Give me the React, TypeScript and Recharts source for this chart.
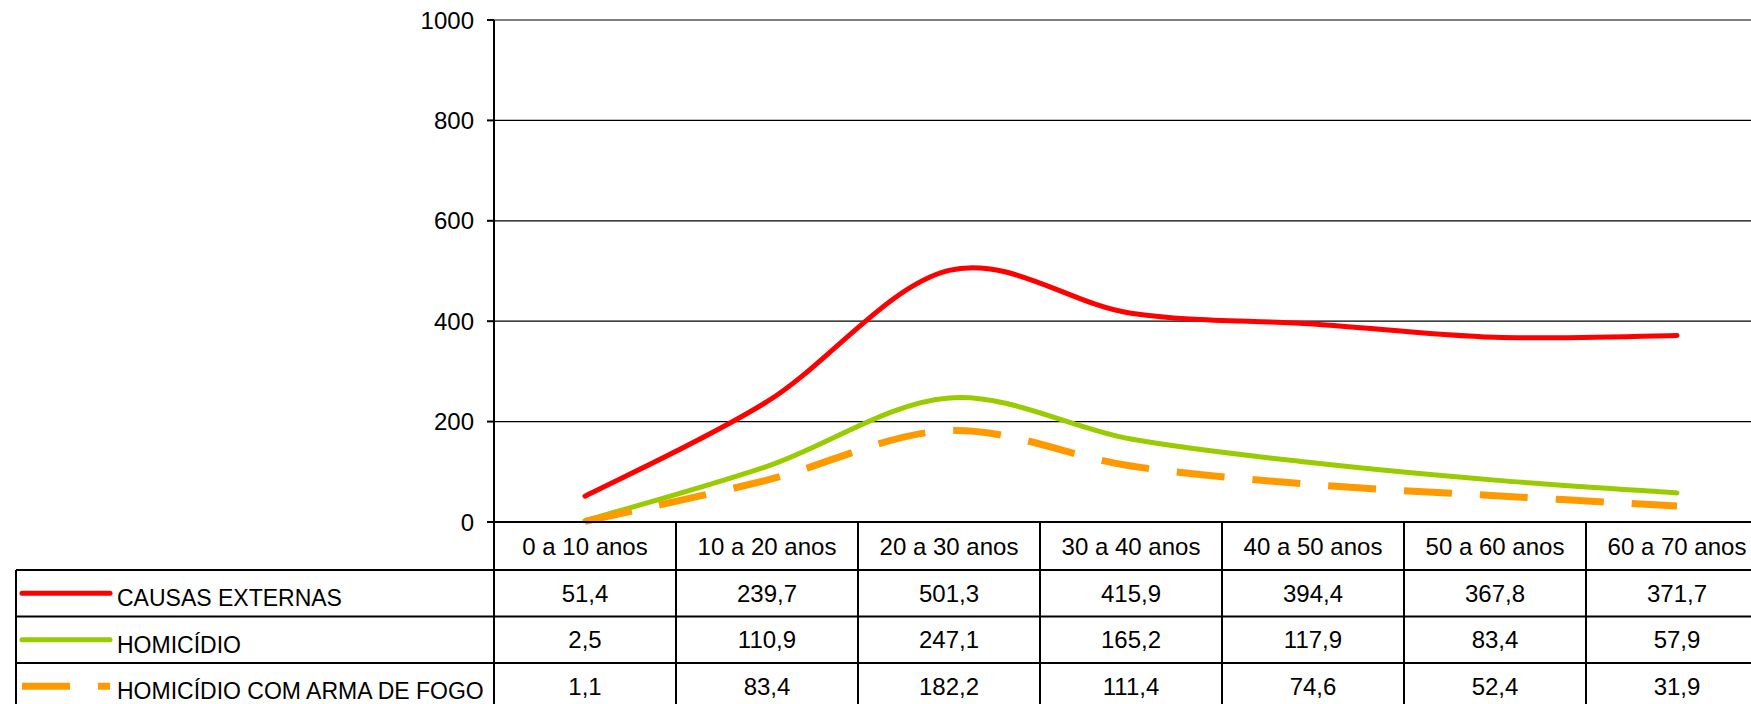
import { LineChart, Line, XAxis, YAxis, CartesianGrid, ReferenceLine } from 'recharts'

const categories = ['0 a 10 anos', '10 a 20 anos', '20 a 30 anos', '30 a 40 anos', '40 a 50 anos', '50 a 60 anos', '60 a 70 anos']
const causasExternas = [51.4, 239.7, 501.3, 415.9, 394.4, 367.8, 371.7]
const homicidio = [2.5, 110.9, 247.1, 165.2, 117.9, 83.4, 57.9]
const homicidioArma = [1.1, 83.4, 182.2, 111.4, 74.6, 52.4, 31.9]
const yTicks = [0, 200, 400, 600, 800, 1000]

const SERIES = [
  { key: 'causas', name: 'CAUSAS EXTERNAS', values: causasExternas, color: '#FF0000', width: 5, dash: undefined as string | undefined },
  { key: 'homicidio', name: 'HOMICÍDIO', values: homicidio, color: '#99CC00', width: 5, dash: undefined as string | undefined },
  { key: 'arma', name: 'HOMICÍDIO COM ARMA DE FOGO', values: homicidioArma, color: '#FF9900', width: 7, dash: '48 28' },
]

const data = categories.map((name, i) => {
  const row: Record<string, string | number> = { name }
  SERIES.forEach(s => { row[s.key] = s.values[i] })
  return row
})

// layout (the original image is cropped on the right, so the chart runs past the frame)
const FRAME_W = 1751
const FRAME_H = 704
const Y_AXIS_W = 494
const PLOT_W = 1274
const COL_W = PLOT_W / categories.length
const TOP = 20
const PLOT_H = 502
const TABLE_H = FRAME_H - TOP - PLOT_H
const CHART_W = Y_AXIS_W + PLOT_W
const HEADER_H = 48
const ROW_H = 46.5
const TABLE_LEFT = 16
const FONT = '"Liberation Sans", Arial, sans-serif'
const FONT_SIZE = 24
const LEGEND_FONT_SIZE = 23

const fmt = (v: number) => v.toFixed(1).replace('.', ',')

// Excel-style smoothed line (Catmull-Rom bezier)
function excelSmooth(context: any) {
  let pts: [number, number][] = []
  return {
    areaStart() {},
    areaEnd() {},
    lineStart() { pts = [] },
    point(x: number, y: number) { pts.push([+x, +y]) },
    lineEnd() {
      const n = pts.length
      if (!n) return
      context.moveTo(pts[0][0], pts[0][1])
      for (let i = 0; i < n - 1; i++) {
        const p0 = pts[Math.max(i - 1, 0)]
        const p1 = pts[i]
        const p2 = pts[i + 1]
        const p3 = pts[Math.min(i + 2, n - 1)]
        context.bezierCurveTo(
          p1[0] + (p2[0] - p0[0]) / 6, p1[1] + (p2[1] - p0[1]) / 6,
          p2[0] - (p3[0] - p1[0]) / 6, p2[1] - (p3[1] - p1[1]) / 6,
          p2[0], p2[1],
        )
      }
    },
  }
}

const TableTick = (props: any) => {
  const { x, y, payload } = props
  const i = payload.index
  const half = COL_W / 2
  const bottom = y + HEADER_H + ROW_H * SERIES.length
  const line = { stroke: '#000', strokeWidth: 2 }
  const txt = { fontFamily: FONT, fontSize: FONT_SIZE, fill: '#000' }

  return (
    <g>
      <line x1={x + half} y1={y} x2={x + half} y2={bottom} {...line} />
      {i === 0 && (
        <g>
          <line x1={x - half} y1={y} x2={x - half} y2={bottom} {...line} />
          <line x1={TABLE_LEFT} y1={y + HEADER_H} x2={TABLE_LEFT} y2={bottom} {...line} />
          {SERIES.map((s, r) => {
            const top = y + HEADER_H + r * ROW_H
            const mid = top + ROW_H / 2
            return (
              <g key={s.key}>
                <line x1={TABLE_LEFT} y1={top} x2={CHART_W + 20} y2={top} {...line} />
                <line
                  x1={TABLE_LEFT + 6} y1={mid} x2={TABLE_LEFT + 94} y2={mid}
                  stroke={s.color} strokeWidth={s.width}
                  strokeDasharray={s.dash}
                  strokeLinecap={s.dash ? 'butt' : 'round'}
                />
                <text x={TABLE_LEFT + 101} y={mid + 5} dominantBaseline="central" {...txt} fontSize={LEGEND_FONT_SIZE}>
                  {s.name}
                </text>
              </g>
            )
          })}
          <line x1={TABLE_LEFT} y1={bottom} x2={CHART_W + 20} y2={bottom} {...line} />
        </g>
      )}
      <text x={x} y={y + HEADER_H / 2} textAnchor="middle" dominantBaseline="central" {...txt}>
        {payload.value}
      </text>
      {SERIES.map((s, r) => (
        <text
          key={s.key}
          x={x}
          y={y + HEADER_H + r * ROW_H + ROW_H / 2}
          textAnchor="middle"
          dominantBaseline="central"
          {...txt}
        >
          {fmt(s.values[i])}
        </text>
      ))}
    </g>
  )
}

export default function App() {
  return (
    <div style={{ position: 'fixed', left: 0, top: 0, width: FRAME_W, height: FRAME_H, overflow: 'hidden', background: '#fff' }}>
      <LineChart width={CHART_W} height={FRAME_H} data={data} margin={{ top: TOP, right: 0, left: 0, bottom: 0 }}>
        <CartesianGrid
          horizontal
          vertical={false}
          stroke="#000"
          strokeWidth={1.3}
          horizontalValues={[200, 400, 600, 800]}
        />
        <ReferenceLine y={1000} stroke="#808080" strokeWidth={2} />
        <XAxis
          dataKey="name"
          height={TABLE_H}
          interval={0}
          padding={{ left: COL_W / 2, right: COL_W / 2 }}
          tickLine={false}
          tickSize={0}
          tickMargin={0}
          axisLine={{ stroke: '#000', strokeWidth: 2 }}
          tick={<TableTick />}
        />
        <YAxis
          width={Y_AXIS_W}
          domain={[0, 1000]}
          ticks={yTicks}
          interval={0}
          tickSize={7}
          tickMargin={13}
          tickLine={{ stroke: '#000', strokeWidth: 2 }}
          axisLine={{ stroke: '#000', strokeWidth: 2 }}
          tick={{ fill: '#000', fontSize: FONT_SIZE, fontFamily: FONT }}
        />
        {SERIES.map(s => (
          <Line
            key={s.key}
            dataKey={s.key}
            name={s.name}
            type={excelSmooth as any}
            stroke={s.color}
            strokeWidth={s.width}
            strokeDasharray={s.dash}
            strokeLinecap={s.dash ? 'butt' : 'round'}
            dot={false}
            activeDot={false}
            isAnimationActive={false}
          />
        ))}
      </LineChart>
    </div>
  )
}
